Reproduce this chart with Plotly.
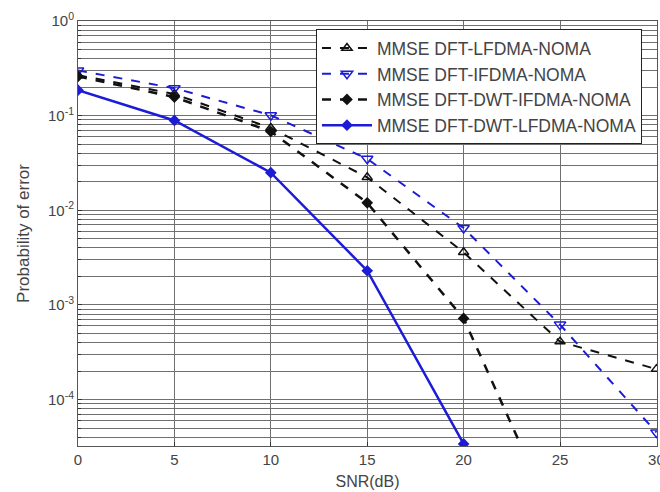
import plotly.graph_objects as go

snr = [0, 5, 10, 15, 20, 25, 30]
lfdma = [0.268, 0.169, 0.074, 0.0223, 0.0036, 0.00041, 0.00021]
ifdma = [0.30, 0.195, 0.101, 0.035, 0.0065, 0.00062, 0.000045]
dwt_ifdma = [0.26, 0.157, 0.068, 0.012, 0.00072, 0.000004]
dwt_lfdma = [0.186, 0.089, 0.025, 0.0023, 0.000034]

names = ["MMSE DFT-LFDMA-NOMA", "MMSE DFT-IFDMA-NOMA",
         "MMSE DFT-DWT-IFDMA-NOMA", "MMSE DFT-DWT-LFDMA-NOMA"]
ytick_vals = [1e-4, 1e-3, 1e-2, 1e-1, 1]
ytick_text = ["10<sup>-4</sup>", "10<sup>-3</sup>", "10<sup>-2</sup>", "10<sup>-1</sup>", "10<sup>0</sup>"]
xtick_vals = [0, 5, 10, 15, 20, 25, 30]
minor_vals = [m * 10.0 ** e for e in range(-5, 0) for m in range(2, 10)]

blue = "#1c1cd8"
black = "#111111"

fig = go.Figure()
fig.add_trace(go.Scatter(x=snr, y=lfdma, name=names[0], mode="lines+markers",
                         line=dict(color=black, width=2, dash="dash"),
                         marker=dict(symbol="triangle-up-open", size=9, color=black, line=dict(width=1.5))))
fig.add_trace(go.Scatter(x=snr, y=ifdma, name=names[1], mode="lines+markers",
                         line=dict(color=blue, width=2, dash="dash"),
                         marker=dict(symbol="triangle-down-open", size=10, color=blue, line=dict(width=1.5))))
fig.add_trace(go.Scatter(x=snr[:len(dwt_ifdma)], y=dwt_ifdma, name=names[2], mode="lines+markers",
                         line=dict(color=black, width=2.5, dash="dash"),
                         marker=dict(symbol="diamond", size=9, color=black)))
fig.add_trace(go.Scatter(x=snr[:len(dwt_lfdma)], y=dwt_lfdma, name=names[3], mode="lines+markers",
                         line=dict(color=blue, width=2.5),
                         marker=dict(symbol="diamond", size=9, color=blue)))

grid = "#707070"
fig.update_layout(
    width=660, height=492,
    margin=dict(l=78, r=3, t=21, b=46, autoexpand=False),
    paper_bgcolor="white", plot_bgcolor="white",
    font=dict(family="Liberation Sans, Arial", size=15, color="#444"),
    legend=dict(x=0.411, y=0.981, xanchor="left", yanchor="top",
                bgcolor="white", bordercolor="#222", borderwidth=1,
                font=dict(size=17.5, color="#444"), tracegroupgap=0,
                itemwidth=50),
    xaxis=dict(range=[0, 30.03], tickvals=xtick_vals, showgrid=True, gridcolor=grid, gridwidth=1,
               showline=True, linecolor="#555", mirror=True, ticks="inside", ticklen=4,
               tickcolor="#333", zeroline=False, tickfont=dict(size=15),
               ticklabeloverflow="allow", automargin=False,
               title=dict(text="SNR(dB)", standoff=8, font=dict(size=16, color="#444"))),
    yaxis=dict(type="log", range=[-4.49, 0], tickvals=ytick_vals, ticktext=ytick_text,
               showgrid=True, gridcolor=grid, gridwidth=1,
               minor=dict(tickvals=minor_vals, showgrid=True, gridcolor=grid, gridwidth=1,
                          ticks="inside", ticklen=3, tickcolor="#333"),
               showline=True, linecolor="#555", mirror=True, ticks="inside", ticklen=4,
               tickcolor="#333", zeroline=False, tickfont=dict(size=15), automargin=False,
               title=dict(text="Probability of error", standoff=14, font=dict(size=17, color="#444"))),
)
fig.write_html("out.html")
